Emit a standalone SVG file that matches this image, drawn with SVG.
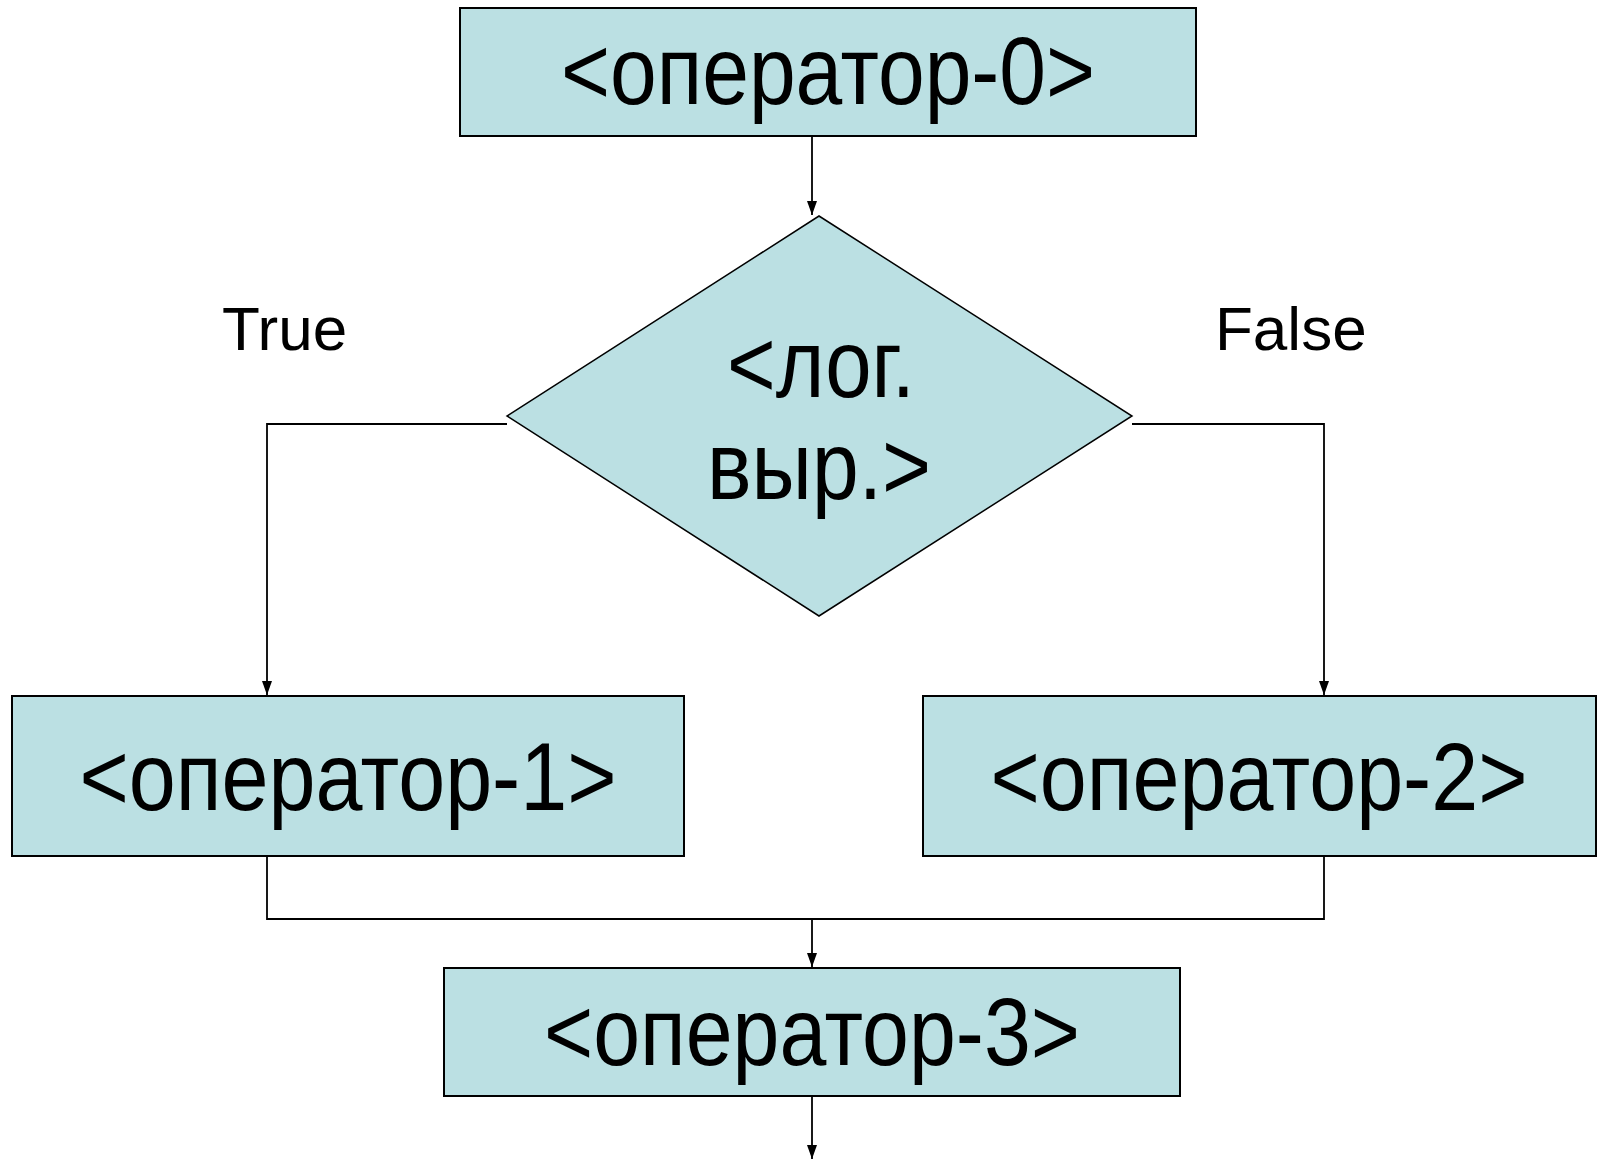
<svg xmlns="http://www.w3.org/2000/svg" width="1600" height="1160" viewBox="0 0 1600 1160">
  <style>
    .box { fill: #BBE0E3; stroke: #000; stroke-width: 2; }
    .dia { fill: #BBE0E3; stroke: #000; stroke-width: 1.5; }
    .lbl { font-family: "Liberation Sans", Arial, sans-serif; font-size: 96px; fill: #000; text-anchor: middle; }
    .cap { font-family: "Liberation Sans", Arial, sans-serif; font-size: 62px; fill: #000; }
    .edge { fill: none; stroke: #000; stroke-width: 1.8; }
  </style>
  <defs>
    <!-- filled arrowhead, drawn pointing along +x so orient="auto" turns it with the line -->
    <marker id="arrow" markerUnits="userSpaceOnUse" markerWidth="14" markerHeight="10" viewBox="0 0 14 10" refX="14" refY="5" orient="auto">
      <path d="M0,0 L14,5 L0,10 Z" fill="#000"/>
    </marker>
  </defs>
  <rect width="1600" height="1160" fill="#fff"/>

  <!-- connectors -->
  <g id="connectors">
    <path class="edge" d="M812,136 V215" marker-end="url(#arrow)"/>
    <path class="edge" d="M507,424 H267 V695" marker-end="url(#arrow)"/>
    <path class="edge" d="M1132,424 H1324 V695" marker-end="url(#arrow)"/>
    <path class="edge" d="M267,856 V919 H1324 V856"/>
    <path class="edge" d="M812,919 V967" marker-end="url(#arrow)"/>
    <path class="edge" d="M812,1096 V1159" marker-end="url(#arrow)"/>
  </g>

  <!-- branch labels -->
  <text class="cap" x="222" y="350">True</text>
  <text class="cap" x="1215" y="350">False</text>

  <g id="op0">
    <rect class="box" x="460" y="8" width="736" height="128"/>
    <text class="lbl" x="828" y="104" textLength="534" lengthAdjust="spacingAndGlyphs">&lt;оператор-0&gt;</text>
  </g>

  <g id="cond">
    <polygon class="dia" points="819,216 1132,416 819,616 507,416"/>
    <text class="lbl" x="821" y="397" textLength="188" lengthAdjust="spacingAndGlyphs">&lt;лог.</text>
    <text class="lbl" x="819" y="499" textLength="224" lengthAdjust="spacingAndGlyphs">выр.&gt;</text>
  </g>

  <g id="op1">
    <rect class="box" x="12" y="696" width="672" height="160"/>
    <text class="lbl" x="348" y="810" textLength="537" lengthAdjust="spacingAndGlyphs">&lt;оператор-1&gt;</text>
  </g>

  <g id="op2">
    <rect class="box" x="923" y="696" width="673" height="160"/>
    <text class="lbl" x="1259" y="810" textLength="537" lengthAdjust="spacingAndGlyphs">&lt;оператор-2&gt;</text>
  </g>

  <g id="op3">
    <rect class="box" x="444" y="968" width="736" height="128"/>
    <text class="lbl" x="812" y="1065" textLength="536" lengthAdjust="spacingAndGlyphs">&lt;оператор-3&gt;</text>
  </g>
</svg>
